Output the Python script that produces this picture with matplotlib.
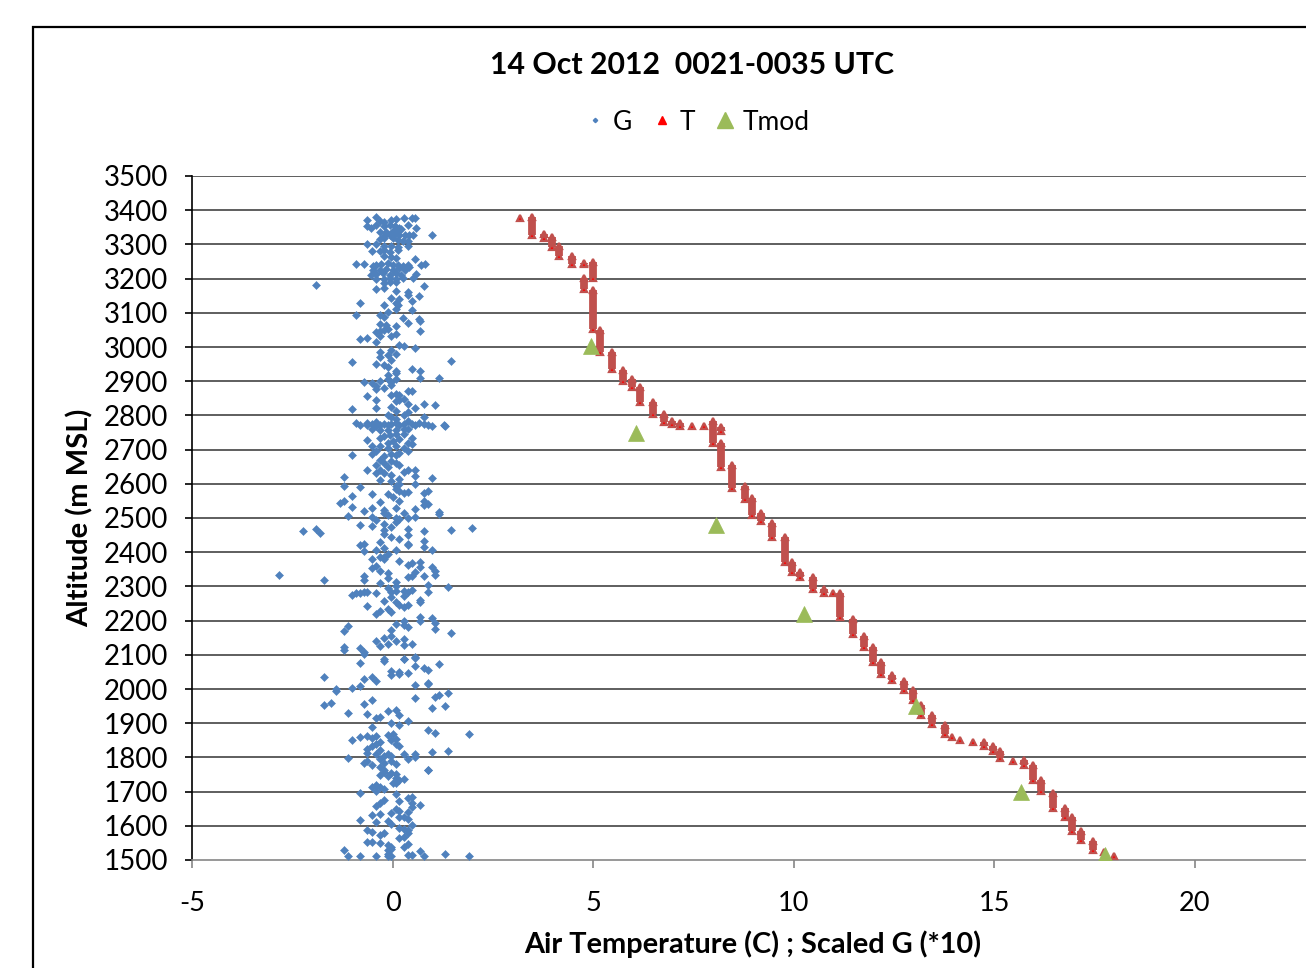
import matplotlib
matplotlib.use("Agg")
import matplotlib.pyplot as plt
from matplotlib.lines import Line2D
from matplotlib.patches import Rectangle

plt.rcParams['font.family'] = ['Lato', 'DejaVu Sans']

# ---------------- data ----------------
# G (scaled *10): pairs of (value, altitude m)
g_vals = [
    -0.63, -0.42, -0.32, -0.20, -0.03, 0.09, 0.28, 0.49, 0.57, -0.63, -0.53, -0.41, -0.20, -0.07, 0.07, 0.17, 0.38, 0.59,
    -0.32, -0.16, 0.01, 0.13, 0.22, -0.20, -0.07, 0.05, 0.17, 0.30, 0.42, 0.51, 0.99, -0.32, -0.20, 0.01, 0.13, 0.26, 0.38,
    -0.63, -0.41, -0.20, -0.03, 0.13, 0.38, -0.51, -0.32, -0.20, -0.07, 0.13, -0.20, -0.03, 0.09, 0.57,
    -0.92, -0.71, -0.49, -0.41, -0.28, -0.12, 0.01, 0.13, 0.26, 0.38, 0.71, 0.80, -0.49, -0.32, -0.16, 0.01, 0.17, 0.30, 0.42,
    -0.53, -0.41, -0.24, -0.07, 0.09, 0.22, 0.59, -0.41, -0.20, -0.07, 0.09, 0.26, 0.51, -1.90, -0.20, -0.07, 0.09, 0.78,
    -0.41, -0.20, 0.09, 0.38, 0.38, -0.03, 0.17, 0.67, -0.81, -0.20, 0.09, 0.13, 0.49, 0.09, -0.12, 0.49,
    -0.92, -0.32, -0.20, 0.26, 0.67,
    -0.32, -0.16, 0.09, 0.38, 0.69, -0.20, -0.12, -0.41, -0.32, 0.09, -0.03, 0.69, -0.81, -0.63, -0.41, -0.32, 0.17, 0.28, 0.57,
    -0.03, -0.32, -0.12, 0.09, -0.32, -0.03, -1.01, -0.41, -0.20, -0.12, 1.46, 0.49, 0.69, 0.09, 0.09, -0.12, 0.69, 1.17,
    -0.32, -0.12, -0.03, 0.09, -0.71, -0.51, -0.41, -0.20, -0.41, -0.03, 0.38, 0.49, -0.63, -0.03, 0.09, 0.17, 0.17, 0.28,
    -0.41, 0.09, 0.38, 0.78, 1.07, -1.01, -0.41, -0.03, 0.09, 0.57, 0.38, -0.12, 0.28, 0.78, -0.03, 0.09,
    -0.92, -0.81, -0.63, -0.63, -0.51, -0.41, -0.41, -0.32, -0.20, -0.12, -0.03, 0.09, 0.17, 0.28, 0.38, 0.49, 0.57, 0.67,
    0.78, 0.88, 0.99, 1.28, -0.51, -0.32, -0.12, 0.09, 0.28, 0.38, 1.30,
    -0.63, -0.32, -0.20, -0.07, 0.09, 0.28, 0.49, -0.12, 0.01, 0.17, 0.38, 0.49, -0.51, -0.32, -0.12, 0.09, 0.28, 0.38,
    -1.01, -0.51, -0.41, -0.20, -0.03, 0.09, 0.17, -0.32, -0.20, -0.03, 0.09, 0.17, -0.41, -0.12, -0.63, -0.41, -0.20, -0.32,
    0.28, 0.38, 0.57, -1.21, -0.03, 0.57, 0.99, -0.32, -0.03, 0.17, -1.21, -0.81, 0.09, 0.17, 0.57, -0.12, 0.09, 0.17, 0.28,
    0.38, 0.78, 0.88, -0.51, -1.01, 0.01, 0.17, 0.78, -1.32, -1.21, -0.32, 0.78, 0.88, -1.01, -0.51, -0.71, -0.20, 0.09, 0.57,
    -0.12, -0.20, 0.28, 1.17, 1.17, -1.11, -0.51, -0.41, 0.09, 0.17, 0.38, 0.57, 0.09, -0.51, -0.20, -0.81, -0.03,
    -2.22, -1.90, -1.82, 0.38, -0.20, -0.20, 0.38, 0.78, 1.46, 1.98, -0.03, 0.17, 0.78, -0.32, 0.38, -0.81, -0.71,
    -0.71, -0.42, -0.20, 0.09, 0.38, 0.78, 0.99, -0.51, -0.32, -0.20, -0.12, -0.20, 0.17, -2.82, -1.71, -0.71, -0.71,
    -0.51, -0.41, -0.32, -0.12, -0.12, 0.38, 0.49, 0.69, 0.69, 0.57, 0.49, 0.38, 0.78, 0.99, 1.07, 1.07, -0.32, 0.09, 0.09,
    -0.12, 0.88, 1.38, -1.01, -0.92, -0.81, -0.71, -0.63, -0.41, -0.03, 0.09, 0.28, 0.28, 0.38, 0.49, 0.88, -0.03, -0.20,
    0.09, 0.17, 0.28, 0.38, 0.69, 0.69, -0.63, -0.12, -0.03, -0.32, -0.41, 0.69, 0.69, 0.99, 1.07, 1.07, 0.28, 0.09, 0.28,
    0.38, -1.11, -1.21, -0.03, 1.46, -0.03, -0.20, 0.09, 0.28, 0.28, 0.49, -0.41, -0.32, -0.12, -1.21, -1.21, -0.81, -0.71,
    -0.71, -0.20, 0.28, 0.57,
    -0.81, -0.20, 0.28, 0.57, 0.57, 0.78, 0.88, 1.17, -0.03, 0.17, 0.38, -0.03, 0.17, -1.71, -0.71, -0.51, -0.41, 0.88, 0.88,
    0.57, -0.81, -1.01, -1.40, -1.40, -1.53, -1.71, -0.71, -0.51, 0.57, 1.07, 1.17, 1.38, 1.30, 0.99, -1.11, -0.63, -0.12,
    0.09, 0.17, -0.41, -0.32, 0.38, -0.03, 0.17, -0.51, 0.88, 1.07, 1.90, -0.81, -0.63, -1.01, -0.51, -0.41, -0.32, -0.12,
    0.01, 0.09, -0.03, 0.17, 0.09, -0.41, -0.51, -0.63, -0.32, -0.63, -0.41, -0.20, -0.12, -0.03, 0.28, 0.57, 0.57, 0.99,
    1.38, -1.11, -0.71, -0.63, -0.51, -0.32, -0.20, -0.03, 0.09, 0.38, -0.32, -0.20, 0.88,
    -0.32, -0.20, -0.12, -0.03, 0.09, 0.09, 0.17, 0.28, 0.01, 0.09, 0.88, -0.51, -0.42, -0.32, -0.42, -0.20, -0.81, 0.09,
    0.38, 0.49, 0.17, -0.20, -0.32, -0.42, 0.49, 0.49, 0.69, 0.09, 0.17, 0.38, -0.03, -0.51, -0.32, 0.17, 0.28, 0.38, -0.81,
    -0.41, -0.12, -0.03, 0.49, 0.17, 0.28, 0.38, 0.38, -0.63, -0.51, -0.20, -0.32, 0.17, 0.28, -0.63, -0.51, -0.32, -0.12,
    -0.03, 0.28, 0.38, -1.21, -0.12, -0.03, -0.12, 0.69, -1.11, -0.81, -0.41, -0.12, -0.03, 0.38, 0.49, 0.78, 1.30, 1.90,
]
g_alts = [
    3371, 3381, 3368, 3366, 3371, 3374, 3376, 3378, 3376, 3355, 3347, 3357, 3355, 3358, 3355, 3349, 3358, 3349,
    3335, 3337, 3339, 3342, 3345, 3325, 3327, 3329, 3327, 3327, 3327, 3327, 3327, 3316, 3318, 3318, 3313, 3310, 3310,
    3300, 3300, 3296, 3296, 3293, 3296, 3280, 3280, 3283, 3279, 3283, 3267, 3264, 3261, 3257,
    3242, 3244, 3238, 3241, 3244, 3247, 3241, 3240, 3238, 3240, 3240, 3242, 3225, 3225, 3228, 3225, 3230, 3225, 3235,
    3210, 3212, 3215, 3210, 3215, 3210, 3213, 3199, 3199, 3202, 3200, 3202, 3202, 3181, 3186, 3189, 3191, 3179,
    3171, 3173, 3163, 3160, 3152, 3144, 3140, 3150, 3129, 3122, 3130, 3122, 3134, 3111, 3101, 3107,
    3093, 3093, 3088, 3085, 3082,
    3067, 3064, 3061, 3070, 3077, 3051, 3054, 3044, 3046, 3038, 3031, 3048, 3022, 3027, 3015, 3031, 3005, 3002, 2997,
    2992, 2985, 2976, 2980, 2970, 2963, 2955, 2951, 2947, 2941, 2960, 2937, 2931, 2929, 2924, 2917, 2908, 2910,
    2902, 2905, 2898, 2905, 2898, 2895, 2885, 2880, 2878, 2890, 2870, 2872, 2856, 2859, 2863, 2859, 2846, 2849,
    2846, 2841, 2833, 2833, 2829, 2820, 2822, 2824, 2814, 2822, 2810, 2802, 2802, 2794, 2794, 2790,
    2778, 2773, 2778, 2771, 2775, 2781, 2768, 2773, 2775, 2771, 2775, 2778, 2773, 2775, 2783, 2775, 2773, 2778,
    2775, 2771, 2768, 2773, 2761, 2758, 2758, 2758, 2761, 2761, 2770,
    2727, 2733, 2739, 2744, 2746, 2746, 2734, 2720, 2725, 2730, 2720, 2717, 2710, 2710, 2705, 2710, 2705, 2695,
    2683, 2686, 2695, 2681, 2688, 2684, 2691, 2671, 2661, 2666, 2661, 2655, 2656, 2649, 2639, 2632, 2632, 2639,
    2635, 2639, 2639, 2619, 2625, 2622, 2617, 2610, 2608, 2613, 2593, 2590, 2593, 2600, 2600, 2571, 2586, 2578, 2574,
    2577, 2574, 2580, 2569, 2564, 2561, 2551, 2551, 2544, 2549, 2547, 2538, 2540, 2532, 2530, 2520, 2522, 2528, 2525,
    2510, 2515, 2515, 2518, 2512, 2505, 2502, 2493, 2499, 2496, 2499, 2502, 2489, 2476, 2483, 2479, 2473,
    2463, 2469, 2457, 2469, 2466, 2452, 2450, 2461, 2466, 2471, 2444, 2440, 2434, 2430, 2424, 2421, 2423,
    2403, 2406, 2412, 2406, 2422, 2414, 2406, 2380, 2387, 2385, 2395, 2380, 2375, 2333, 2320, 2331, 2319,
    2354, 2361, 2346, 2338, 2324, 2364, 2367, 2370, 2358, 2341, 2331, 2327, 2331, 2356, 2344, 2333, 2309, 2312, 2302,
    2295, 2305, 2299, 2276, 2280, 2280, 2283, 2283, 2280, 2283, 2288, 2286, 2273, 2283, 2289, 2283, 2268, 2258,
    2253, 2247, 2241, 2247, 2260, 2253, 2242, 2234, 2224, 2229, 2219, 2211, 2198, 2208, 2192, 2175, 2200, 2190, 2188,
    2180, 2185, 2169, 2172, 2163, 2156, 2149, 2141, 2146, 2129, 2132, 2139, 2127, 2133, 2122, 2114, 2120, 2107,
    2102, 2088, 2088, 2094,
    2076, 2082, 2089, 2092, 2067, 2060, 2057, 2073, 2053, 2050, 2047, 2040, 2043, 2034, 2028, 2035, 2024, 2018, 2014,
    2011, 2008, 2004, 2001, 1995, 1960, 1953, 1957, 1969, 1975, 1977, 1982, 1989, 1950, 1943, 1930, 1928, 1936,
    1940, 1923, 1914, 1917, 1907, 1901, 1894, 1889, 1879, 1872, 1868, 1860, 1862, 1850, 1858, 1862, 1845, 1865,
    1868, 1855, 1850, 1833, 1838, 1838, 1833, 1826, 1823, 1813, 1809, 1803, 1809, 1803, 1811, 1811, 1800, 1816,
    1819, 1797, 1784, 1790, 1777, 1794, 1784, 1790, 1780, 1794, 1772, 1762, 1764,
    1748, 1758, 1745, 1753, 1751, 1739, 1734, 1736, 1724, 1726, 1763, 1714, 1719, 1714, 1703, 1709, 1697, 1693,
    1680, 1683, 1673, 1675, 1666, 1658, 1666, 1656, 1661, 1648, 1644, 1641, 1636, 1631, 1634, 1627, 1625, 1619, 1617,
    1612, 1615, 1605, 1602, 1595, 1592, 1587, 1578, 1587, 1583, 1580, 1573, 1563, 1568, 1553, 1553, 1550, 1544,
    1537, 1537, 1547, 1529, 1529, 1531, 1519, 1527, 1511, 1511, 1511, 1511, 1511, 1514, 1514, 1511, 1519, 1511,
]

# T: temperature steps with the altitude span (top, bottom) each value holds
t_vals = [3.18, 3.47, 3.77, 3.98, 4.16, 4.48, 4.77, 5.00, 4.77, 5.00, 5.18, 5.47, 5.76, 5.98,
          6.18, 6.49, 6.78, 6.97, 7.17, 7.47, 7.76, 7.99, 8.18, 8.18, 8.47, 8.78, 8.97,
          9.18, 9.47, 9.78, 9.97, 10.17, 10.48, 10.77, 10.98, 11.16, 11.48, 11.77, 11.98,
          12.17, 12.46, 12.75, 12.98, 13.18, 13.46, 13.78, 13.96, 14.16, 14.47, 14.76,
          14.97, 15.16, 15.47, 15.76, 15.97, 16.18, 16.47, 16.76, 16.95, 17.16, 17.46,
          17.75, 17.99]
t_top = [3378, 3379, 3329, 3323, 3295, 3267, 3246, 3249, 3201, 3167, 3051, 2985, 2932, 2905,
         2882, 2840, 2804, 2784, 2779, 2770, 2770, 2784, 2767, 2718, 2655, 2593, 2559,
         2515, 2485, 2445, 2372, 2343, 2328, 2291, 2281, 2281, 2206, 2154, 2123,
         2079, 2040, 2024, 1997, 1953, 1923, 1894, 1860, 1852, 1845, 1845,
         1833, 1819, 1790, 1792, 1777, 1733, 1696, 1653, 1626, 1585, 1556,
         1524, 1511]
t_bot = [3378, 3327, 3318, 3293, 3266, 3243, 3243, 3201, 3169, 3054, 2986, 2935, 2901, 2884,
         2840, 2803, 2782, 2775, 2770, 2770, 2770, 2718, 2754, 2650, 2587, 2555, 2509,
         2490, 2445, 2372, 2343, 2328, 2291, 2281, 2281, 2211, 2162, 2123, 2079,
         2043, 2026, 1998, 1967, 1923, 1897, 1867, 1860, 1852, 1845, 1833,
         1819, 1797, 1790, 1777, 1733, 1702, 1653, 1626, 1585, 1558, 1530,
         1524, 1511]

# Tmod
tmod_vals = [4.95, 6.07, 8.07, 10.27, 13.05, 15.67, 17.78]
tmod_alts = [3002, 2750, 2479, 2219, 1950, 1698, 1514]

x_ticks = [-5, 0, 5, 10, 15, 20]
x_max = 25
y_ticks = list(range(1500, 3501, 100))

# ---------------- colours ----------------
BLUE = '#4F81BD'
DARKRED = '#C0504D'
RED = '#FF0000'
GREEN = '#9BBB59'

W, H = 1306, 968
fig = plt.figure(figsize=(W / 100, H / 100), dpi=100)

# axes placement (pixel based)
x_left_px, y_bottom_px, y_top_px = 192, 860, 176
px_per_unit = 40.1
ax_w = (x_max - x_ticks[0]) * px_per_unit
ax = fig.add_axes([x_left_px / W, 1 - y_bottom_px / H, ax_w / W, (y_bottom_px - y_top_px) / H])
ax.set_xlim(x_ticks[0], x_max)
ax.set_ylim(y_ticks[0], y_ticks[-1])

# gridlines
for yv in y_ticks[1:]:
    ax.axhline(yv, color='#333333', lw=1.1, zorder=1)

# G
ax.plot(g_vals, g_alts, linestyle='none', marker='D', ms=3.8, mfc=BLUE, mec=BLUE, mew=0.4, zorder=3)

# T columns
for tv, a_top, a_bot in zip(t_vals, t_top, t_bot):
    if a_top > a_bot:
        ax.vlines(tv, a_bot, a_top, color=DARKRED, lw=5.6, zorder=4)
        ax.plot([tv], [a_top], linestyle='none', marker='^', ms=4.6, mfc=DARKRED, mec=DARKRED, mew=1.6, zorder=4)
    ax.plot([tv], [a_bot], linestyle='none', marker='^', ms=4.6, mfc=RED, mec=DARKRED, mew=1.6, zorder=5)

# Tmod
ax.plot(tmod_vals, tmod_alts, linestyle='none', marker='^', ms=12, mfc=GREEN, mec=GREEN, mew=0.5, zorder=6)

# axes styling
for s in ['top', 'right']:
    ax.spines[s].set_visible(False)
ax.spines['left'].set_color('black')
ax.spines['left'].set_linewidth(1.2)
ax.spines['bottom'].set_color('#868686')
ax.spines['bottom'].set_linewidth(1.2)

ax.set_xticks(x_ticks + [x_max])
ax.set_xticklabels([str(v) for v in x_ticks] + [''])
ax.set_yticks(y_ticks)
ax.set_yticklabels([str(v) for v in y_ticks])
ax.tick_params(axis='x', direction='out', length=6, width=1.2, color='#868686', pad=16, labelsize=19.5)
ax.tick_params(axis='y', direction='out', length=5, width=1.2, color='black', pad=12, labelsize=20)
for lab in ax.get_xticklabels() + ax.get_yticklabels():
    lab.set_color('black')

# texts
fig.text(692 / W, 1 - 65 / H, '14 Oct 2012  0021-0035 UTC', ha='center', va='center',
         fontsize=21.8, fontweight='bold')
fig.text(753 / W, 1 - 944 / H, 'Air Temperature (C) ; Scaled G (*10)', ha='center', va='center',
         fontsize=20.8, fontweight='bold')
fig.text(80 / W, 1 - 518 / H, 'Altitude (m MSL)', ha='center', va='center', rotation=90,
         fontsize=21, fontweight='bold')

# legend
handles = [
    Line2D([], [], linestyle='none', marker='D', ms=2.2, mfc=BLUE, mec=BLUE),
    Line2D([], [], linestyle='none', marker='^', ms=6, mfc=RED, mec=RED),
    Line2D([], [], linestyle='none', marker='^', ms=11, mfc=GREEN, mec=GREEN),
]
fig.legend(handles, ['G', 'T', 'Tmod'], loc='center', bbox_to_anchor=(697 / W, 1 - 122 / H),
           ncol=3, frameon=False, fontsize=19, handlelength=0.8, handletextpad=0.25,
           columnspacing=0.75)

# outer frame
fig.add_artist(Rectangle((33 / W, -0.1), 1.2, (H - 27) / H + 0.1, transform=fig.transFigure,
                         fill=False, edgecolor='black', lw=1.6))

fig.savefig('out.png', dpi=100)
